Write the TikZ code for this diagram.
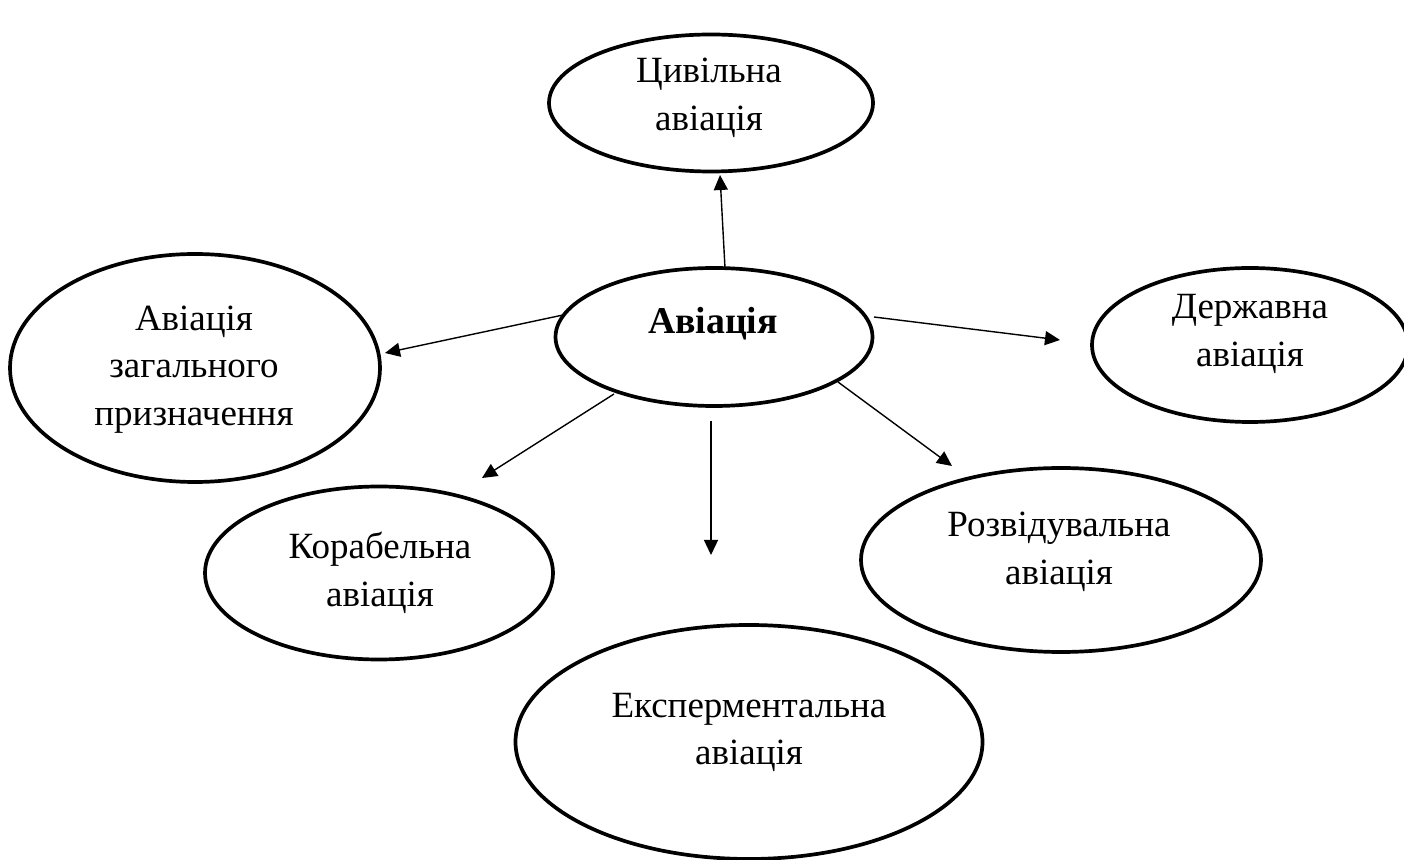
\documentclass[tikz,border=0pt]{standalone}
\usepackage{fontspec}
\setmainfont{Liberation Serif}
\usetikzlibrary{shapes.geometric,arrows.meta}
\tikzset{
  ell/.style={draw, ellipse, line width=1.85pt, inner sep=0pt},
  txt/.style={align=center, inner sep=0pt, font=\fontsize{18.5}{23.9}\selectfont},
  bigtxt/.style={inner sep=0pt, font=\fontsize{18.9}{23}\selectfont\bfseries},
  arr/.style={line width=0.7pt, -{Triangle[length=7.5pt,width=7pt]}}
}
\begin{document}
\begin{tikzpicture}[x=0.5pt,y=-0.5pt]
\useasboundingbox (0,0) rectangle (1404,860);
% ellipses
\node[ell, minimum width=162pt, minimum height=68.5pt] (civ) at (711,103) {};
\node[ell, minimum width=158.5pt, minimum height=69pt] (main) at (714,337) {};
\node[ell, minimum width=185pt, minimum height=114pt] (gen) at (195,368) {};
\node[ell, minimum width=158pt, minimum height=77pt] (der) at (1250,345) {};
\node[ell, minimum width=174pt, minimum height=86.5pt] (kor) at (379,573) {};
\node[ell, minimum width=200pt, minimum height=92pt] (roz) at (1061,560) {};
\node[ell, minimum width=233.5pt, minimum height=117pt] (exp) at (749,742) {};
% texts
\node[txt] (civt) at (709,98) {Цивільна\\авіація};
\node[bigtxt, anchor=base] (maint) at (713,334) {Авіація};
\node[txt] (gent) at (194,369.5) {Авіація\\загального\\призначення};
\node[txt] (dert) at (1250,334) {Державна\\авіація};
\node[txt] (kort) at (380,572.5) {Корабельна\\авіація};
\node[txt] (rozt) at (1059,551.5) {Розвідувальна\\авіація};
\node[txt] (expt) at (749,732.5) {Експерментальна\\авіація};
% arrow end points
\coordinate (a1s) at (725,268); \coordinate (a1e) at (720,175);
\coordinate (a2s) at (563,315); \coordinate (a2e) at (385,353);
\coordinate (a3s) at (874,317); \coordinate (a3e) at (1060,340);
\coordinate (a4s) at (614,394); \coordinate (a4e) at (482,478);
\coordinate (a5s) at (711,421); \coordinate (a5e) at (711,555);
\coordinate (a6s) at (838,382); \coordinate (a6e) at (952,466);
\draw[arr] (a1s) -- (a1e);
\draw[arr] (a2s) -- (a2e);
\draw[arr] (a3s) -- (a3e);
\draw[arr] (a4s) -- (a4e);
\draw[arr] (a5s) -- (a5e);
\draw[arr] (a6s) -- (a6e);
\end{tikzpicture}
\end{document}
